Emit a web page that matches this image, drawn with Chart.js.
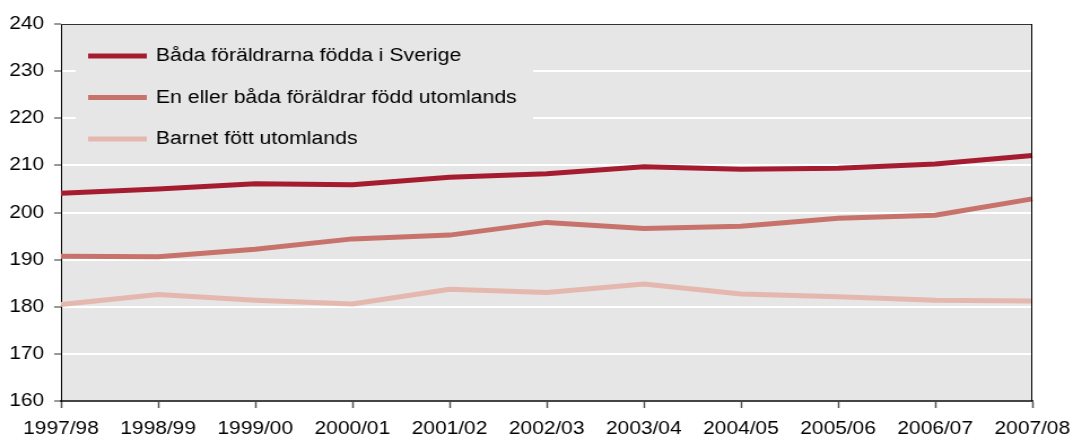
<!DOCTYPE html>
<html>
<head>
<meta charset="utf-8">
<script src="https://cdn.jsdelivr.net/npm/chart.js@4"></script>
<style>
  body { margin: 0; background: #fff; }
</style>
</head>
<body>
<!-- the source picture is stretched sideways a little, so the canvas is too -->
<canvas id="chart" width="950" height="441" style="width:1073px;height:441px"></canvas>
<script>
const years = ["1997/98", "1998/99", "1999/00", "2000/01", "2001/02", "2002/03",
               "2003/04", "2004/05", "2005/06", "2006/07", "2007/08"];

const bothInSweden = [204.1, 205.0, 206.1, 205.9, 207.5, 208.2, 209.7, 209.2, 209.4, 210.3, 212.1];
const parentAbroad = [190.7, 190.6, 192.2, 194.4, 195.2, 197.9, 196.6, 197.1, 198.8, 199.4, 202.9];
const childAbroad  = [180.5, 182.6, 181.4, 180.6, 183.7, 183.0, 184.8, 182.7, 182.1, 181.4, 181.2];

const seriesNames = [
    "Båda föräldrarna födda i Sverige",
    "En eller båda föräldrar född utomlands",
    "Barnet fött utomlands"
];
const seriesColors = ["#a51c30", "#c7736c", "#e5b8af"];

const yMin = 160;
const yMax = 240;
const yStep = 10;

const font = "'Liberation Sans', Arial, sans-serif";

const plotFrame = {
    id: "plotFrame",
    beforeDraw(chart) {
        const { ctx, chartArea: a } = chart;
        ctx.save();
        ctx.fillStyle = "#e6e6e6";
        ctx.fillRect(a.left, a.top, a.right - a.left, a.bottom - a.top);
        ctx.restore();
    },
    beforeDatasetsDraw(chart) {
        // legend sits inside the plot and hides the grid behind it
        const { ctx, chartArea: a } = chart;
        ctx.save();
        ctx.fillStyle = "#e6e6e6";
        ctx.fillRect(a.left + 13, a.top + 6, 405, 128);
        ctx.font = "18.8px " + font;
        ctx.textBaseline = "middle";
        chart.data.datasets.forEach((ds, i) => {
            let y = a.top + 32 + i * 41.5;
            ctx.strokeStyle = ds.borderColor;
            ctx.lineWidth = 5;
            ctx.beginPath();
            ctx.moveTo(a.left + 24, y);
            ctx.lineTo(a.left + 76, y);
            ctx.stroke();
            ctx.fillStyle = "#000";
            ctx.fillText(ds.label, a.left + 84, y);
        });
        ctx.restore();
    },
    afterDraw(chart) {
        const { ctx, chartArea: a } = chart;
        ctx.save();
        ctx.lineWidth = 1;
        ctx.strokeStyle = "#333";
        ctx.beginPath();
        ctx.moveTo(a.left, a.top + 0.5);
        ctx.lineTo(a.right, a.top + 0.5);
        ctx.stroke();
        ctx.strokeStyle = "#000";
        ctx.beginPath();
        ctx.moveTo(a.right - 0.5, a.top);
        ctx.lineTo(a.right - 0.5, a.bottom);
        ctx.stroke();
        ctx.restore();
    }
};

new Chart(document.getElementById("chart"), {
    type: "line",
    data: {
        labels: years,
        datasets: [bothInSweden, parentAbroad, childAbroad].map((values, i) => ({
            label: seriesNames[i],
            data: values,
            borderColor: seriesColors[i],
            backgroundColor: seriesColors[i],
            borderWidth: 5,
            pointRadius: 0,
            tension: 0
        }))
    },
    options: {
        responsive: false,
        animation: false,
        layout: { padding: { top: 24, right: 36, left: 0, bottom: 0 } },
        plugins: {
            legend: { display: false },
            tooltip: { enabled: false }
        },
        scales: {
            x: {
                offset: false,
                grid: {
                    drawOnChartArea: false,
                    tickLength: 7,
                    tickColor: "#555",
                    tickWidth: 1.5
                },
                border: { color: "#444", width: 2 },
                ticks: {
                    color: "#000",
                    font: { family: font, size: 18.5 },
                    padding: 10,
                    maxRotation: 0,
                    autoSkip: false
                },
                afterFit: scale => {
                    scale.height = 40;
                    // end labels may hang past the plot, as in the source
                    scale.paddingLeft = 0;
                    scale.paddingRight = 0;
                }
            },
            y: {
                min: yMin,
                max: yMax,
                grid: {
                    color: "#fff",
                    lineWidth: 2,
                    tickLength: 6,
                    tickColor: "#333",
                    tickWidth: 1
                },
                border: { color: "#000", width: 1 },
                ticks: {
                    stepSize: yStep,
                    color: "#000",
                    font: { family: font, size: 18.5 },
                    padding: 9
                },
                afterFit: scale => { scale.width = 54; }
            }
        }
    },
    plugins: [plotFrame]
});
</script>
</body>
</html>
